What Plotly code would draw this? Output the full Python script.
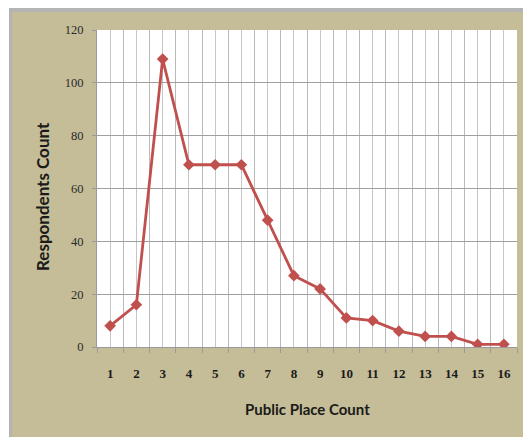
import plotly.graph_objects as go

# Number of public places visited vs. number of respondents
place_counts = list(range(1, 17))
respondents = [8, 16, 109, 69, 69, 69, 48, 27, 22, 11, 10, 6, 4, 4, 1, 1]
y_ticks = [0, 20, 40, 60, 80, 100, 120]

W, H = 523, 437
L, R, T, B = 97, 6, 30, 90
pw, ph = W - L - R, H - T - B

def px_x(v):
    return (v - L) / pw

def px_y(v):
    return (H - B - v) / ph

BEIGE = "#C4BD97"
RED = "#C0504D"

fig = go.Figure()
fig.add_trace(go.Scatter(
    x=place_counts, y=respondents, mode="lines+markers",
    line=dict(color=RED, width=2.8),
    marker=dict(symbol="diamond", size=9, color=RED),
    showlegend=False,
))

fig.update_layout(
    width=W, height=H,
    margin=dict(l=L, r=R, t=T, b=B),
    paper_bgcolor=BEIGE, plot_bgcolor="white",
    xaxis=dict(
        range=[0.5, 16.5], tickvals=place_counts,
        ticktext=[str(v) for v in place_counts],
        showgrid=True, gridcolor="#C6C6C6", gridwidth=1.4,
        ticks="", ticklabelstandoff=14,
        tickfont=dict(family="Liberation Serif", size=13, color="#1a1a1a", weight="bold"),
        showline=True, linecolor="#9A9A9A", linewidth=1,
        zeroline=False, fixedrange=True,
        minor=dict(tick0=0.5, dtick=1, showgrid=True, gridcolor="#BABABA",
                   gridwidth=1.4, ticks="outside", ticklen=5, tickcolor="#9A9A9A"),
    ),
    yaxis=dict(
        range=[0, 120], tickvals=y_ticks,
        showgrid=True, gridcolor="#A0A0A0", gridwidth=1.3,
        ticks="outside", ticklen=4, tickcolor="#9A9A9A", ticklabelstandoff=6,
        tickfont=dict(family="Liberation Serif", size=12.5, color="#2a2a2a"),
        showline=True, linecolor="#9A9A9A", linewidth=1,
        zeroline=False, fixedrange=True,
    ),
    shapes=[
        # white margin strips and grey frame edges around the beige chart area
        dict(type="rect", xref="paper", yref="paper", x0=px_x(0), x1=px_x(9),
             y0=px_y(H), y1=px_y(0), fillcolor="white", line_width=0, layer="below"),
        dict(type="rect", xref="paper", yref="paper", x0=px_x(0), x1=px_x(W),
             y0=px_y(8), y1=px_y(0), fillcolor="white", line_width=0, layer="below"),
        dict(type="rect", xref="paper", yref="paper", x0=px_x(9), x1=px_x(W),
             y0=px_y(12), y1=px_y(8), fillcolor="#B4B4B4", line_width=0, layer="below"),
        dict(type="rect", xref="paper", yref="paper", x0=px_x(9), x1=px_x(12),
             y0=px_y(H), y1=px_y(8), fillcolor="#B4B4B4", line_width=0, layer="below"),
    ],
    annotations=[
        dict(text="Respondents Count", xref="paper", yref="paper",
             x=px_x(42), y=px_y(197), textangle=-90, showarrow=False,
             xanchor="center", yanchor="middle",
             font=dict(family="Lato", size=17, color="#1a1a1a", weight="bold")),
        dict(text="Public Place Count", xref="paper", yref="paper",
             x=px_x(307), y=px_y(409), showarrow=False,
             xanchor="center", yanchor="middle",
             font=dict(family="Lato", size=15, color="#1a1a1a", weight="bold")),
    ],
)

fig.write_html("out.html")
